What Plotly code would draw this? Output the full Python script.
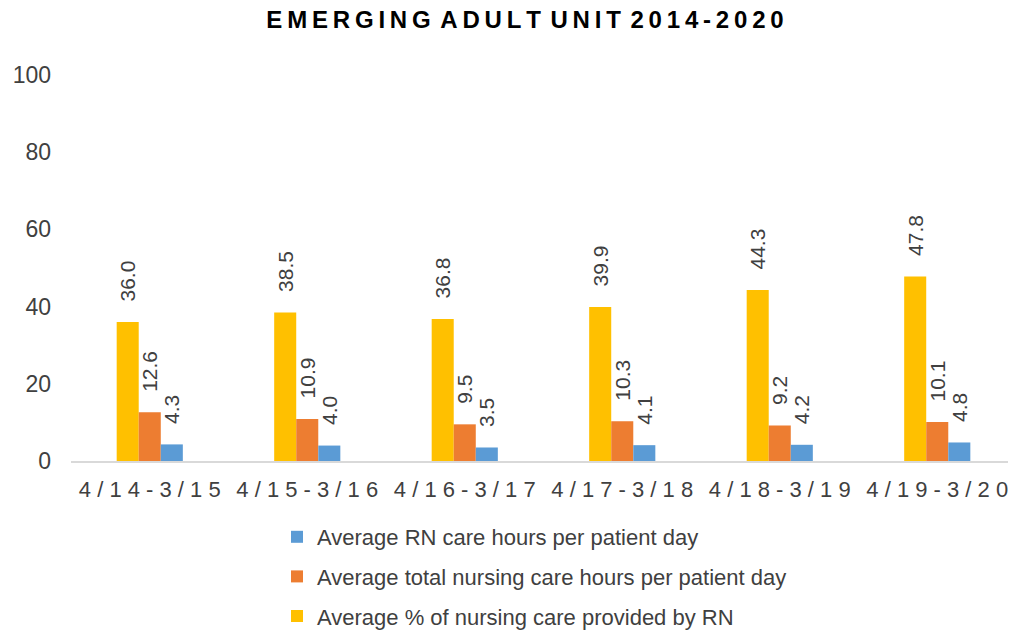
import plotly.graph_objects as go

categories = ["4/14-3/15", "4/15-3/16", "4/16-3/17", "4/17-3/18", "4/18-3/19", "4/19-3/20"]
pct_rn = [36.0, 38.5, 36.8, 39.9, 44.3, 47.8]
total_hours = [12.6, 10.9, 9.5, 10.3, 9.2, 10.1]
rn_hours = [4.3, 4.0, 3.5, 4.1, 4.2, 4.8]

NB = "\u00a0"
TH = "\u2009"


def spaced_title(s):
    words = s.split(" ")
    return (TH + TH).join(TH.join(w) for w in words)


def spaced_tick(s):
    return NB.join(s)


title_text = spaced_title("EMERGING ADULT UNIT 2014-2020")
ticktext = [spaced_tick(c) for c in categories]

ARIAL = "Liberation Sans, Arial, sans-serif"
label_font = dict(family=ARIAL, size=21, color="#404040")
tmpl = NB * 3 + "%{y:.1f}"

# the page body adds an 8px offset; figure sized to fit the window
W, H = 1008, 626
L, T, B = 63, 67, 173
PW, PH = W - L, H - T - B

fig = go.Figure()
fig.add_trace(go.Bar(
    x=categories, y=pct_rn, name="Average % of nursing care provided by RN",
    marker=dict(color="#FFC000", line=dict(width=0)),
    texttemplate=tmpl, textposition="outside", textangle=-90,
    textfont=label_font, constraintext="none", cliponaxis=False,
    legendrank=3, legendgroup="c",
))
fig.add_trace(go.Bar(
    x=categories, y=total_hours, name="Average total nursing care hours per patient day",
    marker=dict(color="#ED7D31", line=dict(width=0)),
    texttemplate=tmpl, textposition="outside", textangle=-90,
    textfont=label_font, constraintext="none", cliponaxis=False,
    legendrank=2, legendgroup="b",
))
fig.add_trace(go.Bar(
    x=categories, y=rn_hours, name="Average RN care hours per patient day",
    marker=dict(color="#5B9BD5", line=dict(width=0)),
    texttemplate=tmpl, textposition="outside", textangle=-90,
    textfont=label_font, constraintext="none", cliponaxis=False,
    legendrank=1, legendgroup="a",
))

fig.update_layout(
    width=W, height=H,
    margin=dict(l=L, r=0, t=T, b=B, autoexpand=False),
    paper_bgcolor="white", plot_bgcolor="white",
    barmode="group", bargap=0.58, bargroupgap=0,
    title=dict(
        text=title_text, x=517 / W, xref="container", xanchor="center",
        y=1 - 3 / H, yref="container", yanchor="top", pad=dict(t=0, b=0),
        font=dict(family=ARIAL, size=24, color="#000000", weight="bold"),
    ),
    xaxis=dict(
        tickmode="array", tickvals=categories, ticktext=ticktext,
        showline=True, linecolor="#D9D9D9", linewidth=2,
        ticks="", showgrid=False, zeroline=False, automargin=False,
        ticklabelstandoff=8,
        tickfont=dict(family=ARIAL, size=22, color="#404040"),
    ),
    yaxis=dict(
        range=[0, 100], dtick=20, showgrid=False, zeroline=False, showline=False,
        ticks="", ticklabelstandoff=19, automargin=False,
        tickfont=dict(family=ARIAL, size=23, color="#404040"),
    ),
    legend=dict(
        orientation="v", x=(269 - L) / PW, xanchor="left",
        y=-(508 - (T + PH)) / PH, yanchor="top",
        traceorder="grouped", tracegroupgap=8,
        font=dict(family=ARIAL, size=22, color="#404040"),
        bgcolor="rgba(0,0,0,0)",
    ),
    showlegend=True,
)

fig.write_html("out.html")
